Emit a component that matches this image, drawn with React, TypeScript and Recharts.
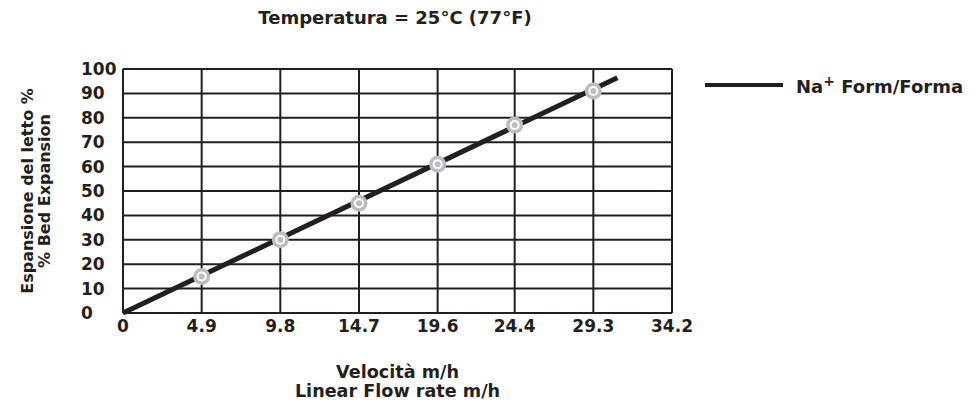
import React from "react";
import {
  CartesianGrid,
  ComposedChart,
  Legend,
  Line,
  Scatter,
  XAxis,
  YAxis,
} from "recharts";

// flow rate ticks (m/h) and bed expansion ticks (%)
const X_TICKS = [0, 4.9, 9.8, 14.7, 19.6, 24.4, 29.3, 34.2];
const Y_TICKS = [0, 10, 20, 30, 40, 50, 60, 70, 80, 90, 100];

// measured points
const FLOW = [4.9, 9.8, 14.7, 19.6, 24.4, 29.3];
const EXPANSION = [15, 30, 45, 61, 77, 91];

// trend line end points
const LINE_FLOW = [0, 30.8];
const LINE_EXPANSION = [0, 96.4];

const INK = "#231f20";
const FONT = "'DejaVu Sans', sans-serif";

const points = FLOW.map((x, i) => ({ x, y: EXPANSION[i] }));
const linePoints = LINE_FLOW.map((x, i) => ({ x, y: LINE_EXPANSION[i] }));

function Marker(props: { cx?: number; cy?: number }) {
  const { cx, cy } = props;
  if (cx == null || cy == null) return null;
  return (
    <g>
      <circle cx={cx} cy={cy} r={8.5} fill="#bcbdc0" />
      <circle cx={cx} cy={cy} r={5} fill="#ffffff" />
      <circle cx={cx} cy={cy} r={3} fill="#bcbdc0" />
    </g>
  );
}

function YTick(props: any) {
  const { x, y, payload } = props;
  return (
    <text
      x={x - 40}
      y={y}
      textAnchor="start"
      dominantBaseline="central"
      fill={INK}
      fontFamily={FONT}
      fontWeight="bold"
      fontSize={17}
    >
      {payload.value}
    </text>
  );
}

function XTitle(props: any) {
  const vb = props.viewBox;
  const cx = vb.x + vb.width / 2;
  return (
    <text
      textAnchor="middle"
      fill={INK}
      fontFamily={FONT}
      fontWeight="bold"
      fontSize={17.6}
    >
      <tspan x={cx} y={378}>
        Velocità m/h
      </tspan>
      <tspan x={cx} y={397}>
        Linear Flow rate m/h
      </tspan>
    </text>
  );
}

function YTitle(props: any) {
  const vb = props.viewBox;
  const cy = vb.y + vb.height / 2;
  return (
    <g fill={INK} fontFamily={FONT} fontWeight="bold" fontSize={16}>
      <text
        x={33}
        y={cy}
        textAnchor="middle"
        transform={`rotate(-90 33 ${cy})`}
      >
        Espansione del letto %
      </text>
      <text
        x={50}
        y={cy}
        textAnchor="middle"
        transform={`rotate(-90 50 ${cy})`}
      >
        % Bed Expansion
      </text>
    </g>
  );
}

function LegendBox() {
  return (
    <div
      style={{
        display: "flex",
        alignItems: "center",
        fontFamily: FONT,
        fontWeight: "bold",
        fontSize: 18,
        color: INK,
      }}
    >
      <span
        style={{
          display: "inline-block",
          width: 78,
          height: 4,
          background: INK,
          marginRight: 13,
        }}
      />
      <span>
        Na<sup style={{ fontSize: 14 }}>+</sup> Form/Forma
      </span>
    </div>
  );
}

export default function App() {
  return (
    <div
      style={{
        position: "absolute",
        left: 0,
        top: 0,
        width: 976,
        height: 405,
        background: "#ffffff",
      }}
    >
      <div
        style={{
          position: "absolute",
          left: 0,
          top: 7,
          width: 790,
          textAlign: "center",
          fontFamily: FONT,
          fontWeight: "bold",
          fontSize: 18,
          color: INK,
        }}
      >
        Temperatura = 25°C (77°F)
      </div>
      <ComposedChart
        width={976}
        height={405}
        margin={{ top: 69, right: 304, bottom: 62, left: 83 }}
      >
        <CartesianGrid stroke={INK} strokeWidth={2} />
        <XAxis
          type="number"
          dataKey="x"
          domain={[0, 34.2]}
          ticks={X_TICKS}
          interval={0}
          height={30}
          axisLine={false}
          tickLine={false}
          tickSize={0}
          tickMargin={7}
          tick={{ fill: INK, fontFamily: FONT, fontWeight: "bold", fontSize: 17 }}
          label={<XTitle />}
        />
        <YAxis
          type="number"
          dataKey="y"
          domain={[0, 100]}
          ticks={Y_TICKS}
          interval={0}
          width={40}
          axisLine={false}
          tickLine={false}
          tickSize={0}
          tick={<YTick />}
          label={<YTitle />}
        />
        <Legend
          layout="vertical"
          align="center"
          verticalAlign="middle"
          content={<LegendBox />}
          wrapperStyle={{ left: 705, top: 73, width: 271 }}
        />
        <Line
          data={linePoints}
          dataKey="y"
          type="linear"
          stroke={INK}
          strokeWidth={5}
          dot={false}
          activeDot={false}
          legendType="line"
          isAnimationActive={false}
        />
        <Scatter
          data={points}
          dataKey="y"
          shape={<Marker />}
          legendType="none"
          isAnimationActive={false}
        />
      </ComposedChart>
    </div>
  );
}
